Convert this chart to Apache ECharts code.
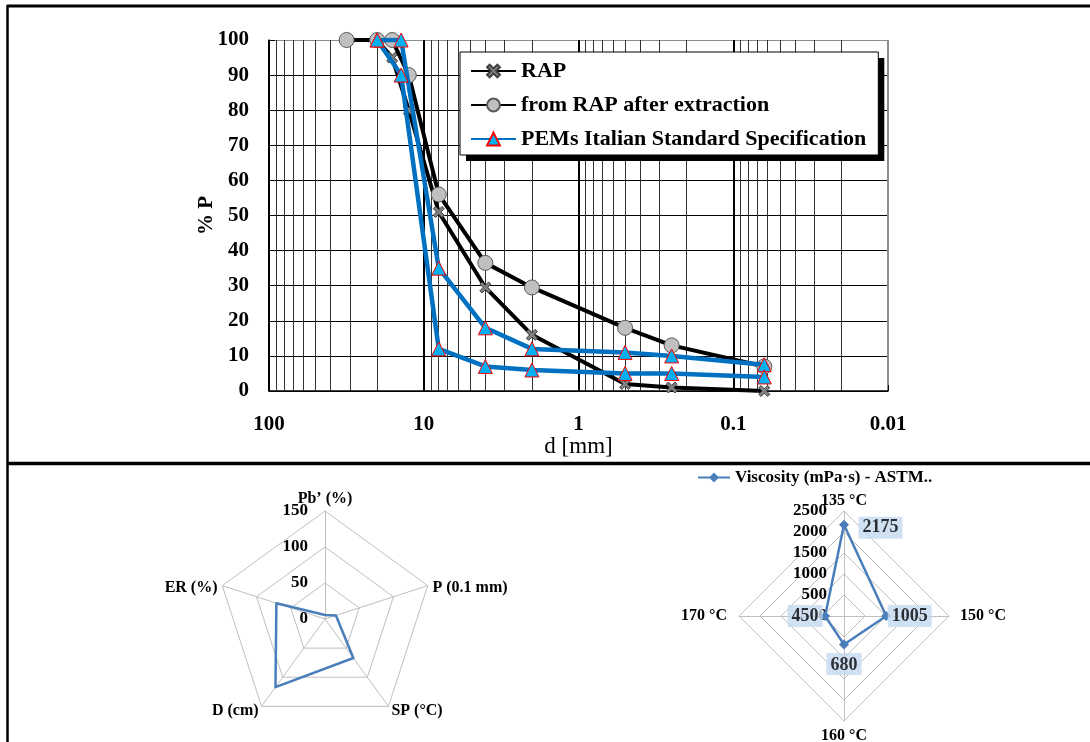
<!DOCTYPE html>
<html>
<head>
<meta charset="utf-8">
<script src="https://cdn.jsdelivr.net/npm/echarts@6/dist/echarts.min.js"></script>
<style>
  html, body { margin: 0; padding: 0; background: #fff; }
  #chart { width: 1090px; height: 742px; }
</style>
</head>
<body>
<div id="chart"></div>
<script>
const SERIF = '"Liberation Serif", "Times New Roman", serif';

// Grading curves: sieve opening (mm) against % passing
const sieveRap = [31.5, 20, 16, 12.5, 8, 4, 2, 0.5, 0.25, 0.063];
const passRap = [100, 100, 95, 80, 51, 29.5, 16, 2, 1, 0];
const passExtracted = [100, 100, 100, 90, 56, 36.5, 29.5, 18, 13, 7];
const sieveSpec = [20, 14, 8, 4, 2, 0.5, 0.25, 0.063];
const specUpper = [100, 100, 35, 18, 12, 11, 10, 7.5];
const specLower = [100, 90, 12, 7, 6, 5, 5, 4];

// Axis ticks of the grading plot
const xTickValues = [100, 10, 1, 0.1, 0.01];
const xTickLabels = ['100', '10', '1', '0.1', '0.01'];
const minorMultipliers = [2, 3, 4, 5, 6, 7, 8, 9];
const minorDecades = [0.01, 0.1, 1, 10];

// Binder properties, listed clockwise from the top axis
const binderAxes = ['Pb\u2019 (%)', 'P (0.1 mm)', 'SP (\u00b0C)', 'D (cm)', 'ER (%)'];
const binderValues = [5.5, 16, 67, 117, 71];
const binderMax = 150;

// Viscosity, listed clockwise from the top axis
const viscosityTemps = ['135 \u00b0C', '150 \u00b0C', '160 \u00b0C', '170 \u00b0C'];
const viscosityValues = [2175, 1005, 680, 450];
const viscosityMax = 2500;
const viscosityName = 'Viscosity (mPa\u00b7s) - ASTM..';

// Placement of the axis names (clockwise, same order as the axes)
const binderNameStyle = [
  { nameGap: 4 },
  { nameGap: 5, nameTextStyle: { verticalAlign: 'top', lineHeight: 8 } },
  { nameGap: 5 },
  { nameGap: 5 },
  { nameGap: 5, nameTextStyle: { verticalAlign: 'top', lineHeight: 8 } }
];
const viscosityNameStyle = [
  { nameGap: 2 },
  { nameGap: 11 },
  { nameGap: 7 },
  { nameGap: 12 }
];

// Where each viscosity value box sits around its point
const viscosityLabelPlace = [
  { position: 'right', distance: 14, offset: [0, 3] },
  { position: 'right', distance: 1 },
  { position: 'bottom', distance: 8 },
  { position: 'left', distance: 2 }
];

// ECharts lays radar indicators out counter-clockwise
const ccw = arr => [arr[0]].concat(arr.slice(1).reverse());

const pairs = (xs, ys) => xs.map((x, i) => [x, ys[i]]);

const minorGrid = [];
minorDecades.forEach(d => minorMultipliers.forEach(m => minorGrid.push({ xAxis: m * d })));

const ySplitColors = [];
for (let i = 0; i <= 10; i++) ySplitColors.push(i === 10 ? '#8c8c8c' : '#000');

const xPath = 'path://M0,2 L2,0 L5,3 L8,0 L10,2 L7,5 L10,8 L8,10 L5,7 L2,10 L0,8 L3,5 Z';

const radarCommon = {
  shape: 'polygon',
  startAngle: 90,
  splitArea: { show: false },
  axisLine: { lineStyle: { color: '#bfbfbf', width: 1 } },
  splitLine: { lineStyle: { color: '#bfbfbf', width: 1 } },
  axisTick: { show: false },
  axisLabel: {
    show: false, color: '#000', fontFamily: SERIF, fontWeight: 'bold', fontSize: 17, margin: 17,
    formatter: v => String(v)
  },
  axisName: { color: '#000', fontFamily: SERIF, fontWeight: 'bold', fontSize: 16 }
};

const makeIndicators = (names, max, nameStyles) => {
  const order = ccw(names.map((n, i) => i));
  return order.map((k, i) => {
    const ind = Object.assign({ name: names[k], min: 0, max: max, nameMoveOverlap: false }, nameStyles[k]);
    if (i === 0) ind.axisLabel = { show: true };
    return ind;
  });
};

const legendBase = {
  data: ['RAP', 'from RAP after extraction', 'PEMs Italian Standard Specification'],
  orient: 'vertical',
  left: 460,
  top: 52,
  padding: [7, 12, 4, 10],
  itemGap: 10,
  itemWidth: 45,
  itemHeight: 16,
  borderRadius: 0,
  selectedMode: false,
  textStyle: { color: '#000', fontFamily: SERIF, fontWeight: 'bold', fontSize: 22, lineHeight: 24 }
};

const chart = echarts.init(document.getElementById('chart'), null, { renderer: 'canvas' });

chart.setOption({
  animation: false,
  backgroundColor: '#fff',
  textStyle: { fontFamily: SERIF },
  graphic: [
    { type: 'line', shape: { x1: 7, y1: 6, x2: 1090, y2: 6 }, style: { stroke: '#000', lineWidth: 3 } },
    { type: 'line', shape: { x1: 7.5, y1: 5, x2: 7.5, y2: 742 }, style: { stroke: '#000', lineWidth: 2.5 } },
    { type: 'line', shape: { x1: 7, y1: 463.5, x2: 1090, y2: 463.5 }, style: { stroke: '#000', lineWidth: 3.5 } }
  ],
  grid: { left: 269, right: 202, top: 40, bottom: 351, containLabel: false, outerBoundsMode: 'none' },
  xAxis: {
    type: 'log',
    logBase: 10,
    min: 0.01,
    max: 100,
    inverse: true,
    name: 'd [mm]',
    nameLocation: 'middle',
    nameGap: 44,
    nameMoveOverlap: false,
    nameTextStyle: { color: '#000', fontFamily: SERIF, fontSize: 23 },
    axisLine: { lineStyle: { color: '#000', width: 1.5 } },
    axisTick: { show: true, inside: true, length: 6, lineStyle: { color: '#000' } },
    axisLabel: {
      color: '#000', fontFamily: SERIF, fontWeight: 'bold', fontSize: 21, margin: 23,
      formatter: v => {
        const i = xTickValues.findIndex(t => Math.abs(Math.log10(t) - Math.log10(v)) < 1e-6);
        return i >= 0 ? xTickLabels[i] : '';
      }
    },
    splitLine: { show: true, lineStyle: { color: ['#8c8c8c', '#000', '#000', '#000', '#000'], width: 2 } }
  },
  yAxis: {
    type: 'value',
    min: 0,
    max: 100,
    interval: 10,
    name: '% P',
    nameLocation: 'middle',
    nameRotate: 90,
    nameGap: 52,
    nameMoveOverlap: false,
    nameTextStyle: { color: '#000', fontFamily: SERIF, fontWeight: 'bold', fontSize: 21 },
    axisLine: { show: true, lineStyle: { color: '#000', width: 1.5 } },
    axisTick: { show: true, inside: true, length: 6, lineStyle: { color: '#000' } },
    axisLabel: { color: '#000', fontFamily: SERIF, fontWeight: 'bold', fontSize: 21, margin: 20 },
    splitLine: { show: true, lineStyle: { color: ySplitColors, width: 1 } }
  },
  legend: [
    // white box with a hard black drop shadow
    Object.assign({}, legendBase, {
      backgroundColor: '#fff',
      borderWidth: 0,
      shadowColor: '#000',
      shadowBlur: 0,
      shadowOffsetX: 6,
      shadowOffsetY: 6
    }),
    // thin black frame over the same box, items drawn invisibly
    Object.assign({}, legendBase, {
      backgroundColor: 'rgba(0,0,0,0)',
      borderColor: '#000',
      borderWidth: 1,
      z: 5,
      itemStyle: { opacity: 0 },
      lineStyle: { opacity: 0 },
      textStyle: Object.assign({}, legendBase.textStyle, { color: 'rgba(0,0,0,0)' })
    }),
    {
      data: [viscosityName],
      left: 698,
      top: 469,
      padding: 0,
      itemWidth: 32,
      itemHeight: 10,
      icon: 'path://M0,4 L12,4 L16,0 L20,4 L32,4 L32,6 L20,6 L16,10 L12,6 L0,6 Z',
      selectedMode: false,
      textStyle: { color: '#000', fontFamily: SERIF, fontWeight: 'bold', fontSize: 17 }
    }
  ],
  radar: [
    Object.assign({}, radarCommon, {
      center: [325, 619],
      radius: 108,
      splitNumber: 3,
      indicator: makeIndicators(binderAxes, binderMax, binderNameStyle)
    }),
    Object.assign({}, radarCommon, {
      center: [844, 616],
      radius: 105,
      splitNumber: 5,
      indicator: makeIndicators(viscosityTemps, viscosityMax, viscosityNameStyle)
    })
  ],
  polar: { center: [844, 616], radius: 105 },
  angleAxis: {
    type: 'category',
    data: viscosityTemps,
    boundaryGap: false,
    startAngle: 90,
    clockwise: true,
    show: false
  },
  radiusAxis: { min: 0, max: viscosityMax, show: false },
  series: [
    {
      name: 'RAP',
      type: 'line',
      data: pairs(sieveRap, passRap),
      symbol: xPath,
      symbolSize: 11,
      lineStyle: { color: '#000', width: 4 },
      itemStyle: { color: '#808080', borderColor: '#3f3f3f', borderWidth: 1 },
      z: 2,
      markLine: {
        silent: true,
        z: 1,
        symbol: ['none', 'none'],
        label: { show: false },
        lineStyle: { color: '#333', width: 1, type: 'solid' },
        emphasis: { disabled: true },
        data: minorGrid
      }
    },
    {
      name: 'from RAP after extraction',
      type: 'line',
      data: pairs(sieveRap, passExtracted),
      symbol: 'circle',
      symbolSize: 15,
      lineStyle: { color: '#000', width: 4 },
      itemStyle: { color: '#c0c0c0', borderColor: '#595959', borderWidth: 1 },
      z: 3
    },
    {
      name: 'PEMs Italian Standard Specification',
      type: 'line',
      data: pairs(sieveSpec, specUpper),
      symbol: 'triangle',
      symbolSize: 14,
      lineStyle: { color: '#0070c0', width: 4.5 },
      itemStyle: { color: '#00b0f0', borderColor: '#ff0000', borderWidth: 1 },
      z: 4
    },
    {
      name: 'PEMs Italian Standard Specification',
      type: 'line',
      data: pairs(sieveSpec, specLower),
      symbol: 'triangle',
      symbolSize: 14,
      lineStyle: { color: '#0070c0', width: 4.5 },
      itemStyle: { color: '#00b0f0', borderColor: '#ff0000', borderWidth: 1 },
      z: 4
    },
    {
      name: 'Binder',
      type: 'radar',
      radarIndex: 0,
      symbol: 'none',
      lineStyle: { color: '#4a7ebb', width: 2.5 },
      itemStyle: { color: '#4a7ebb' },
      data: [{ name: 'Binder', value: ccw(binderValues) }]
    },
    {
      name: 'Viscosity',
      type: 'radar',
      radarIndex: 1,
      symbol: 'diamond',
      symbolSize: 10,
      lineStyle: { color: '#4a7ebb', width: 2.5 },
      itemStyle: { color: '#4a7ebb' },
      data: [{ name: viscosityName, value: ccw(viscosityValues) }]
    },
    {
      name: 'Viscosity values',
      type: 'scatter',
      coordinateSystem: 'polar',
      symbolSize: 1,
      itemStyle: { color: 'rgba(0,0,0,0)' },
      silent: true,
      z: 5,
      label: {
        show: true,
        color: '#000',
        fontFamily: SERIF,
        fontWeight: 'bold',
        fontSize: 18,
        backgroundColor: '#c6d9f1',
        padding: [3, 4, 1, 4],
        formatter: p => String(p.value[0])
      },
      data: viscosityValues.map((v, i) => ({
        value: [v, i],
        label: viscosityLabelPlace[i]
      }))
    }
  ]
});
</script>
</body>
</html>
